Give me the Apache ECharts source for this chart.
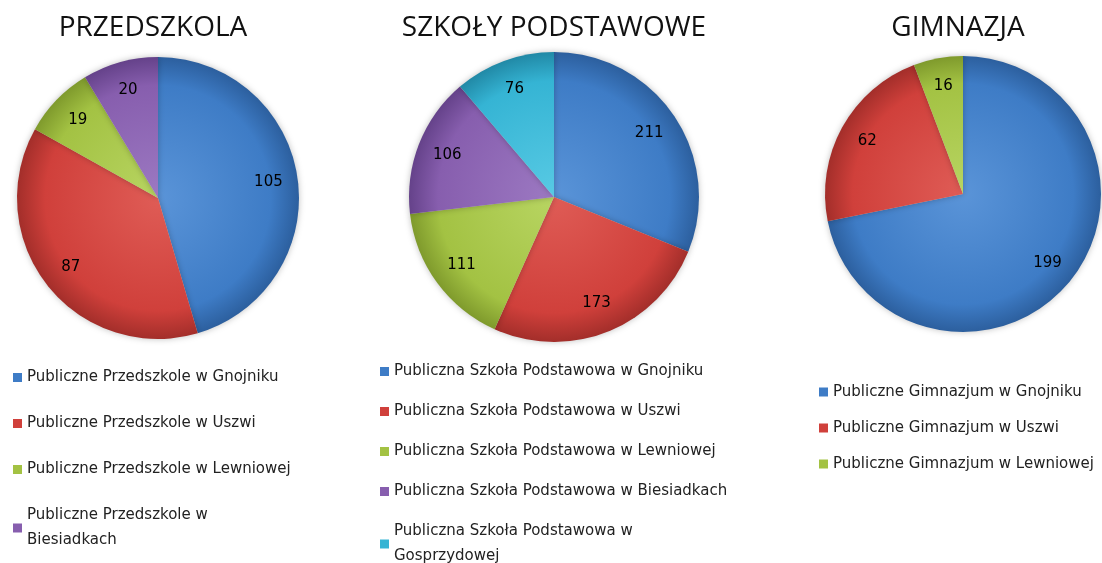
<!DOCTYPE html>
<html>
<head>
<meta charset="utf-8">
<script src="https://cdn.jsdelivr.net/npm/echarts@6/dist/echarts.min.js"></script>
<style>
  html, body { margin: 0; padding: 0; background: #fff; }
  #chart { width: 1102px; height: 563px; }
</style>
</head>
<body>
<div id="chart"></div>
<script>
// dane
const przedszkolaNames = [
  'Publiczne Przedszkole w Gnojniku',
  'Publiczne Przedszkole w Uszwi',
  'Publiczne Przedszkole w Lewniowej',
  'Publiczne Przedszkole w Biesiadkach'
];
const przedszkolaValues = [105, 87, 19, 20];

const szkolyNames = [
  'Publiczna Szkoła Podstawowa w Gnojniku',
  'Publiczna Szkoła Podstawowa w Uszwi',
  'Publiczna Szkoła Podstawowa w Lewniowej',
  'Publiczna Szkoła Podstawowa w Biesiadkach',
  'Publiczna Szkoła Podstawowa w Gosprzydowej'
];
const szkolyValues = [211, 173, 111, 106, 76];

const gimnazjaNames = [
  'Publiczne Gimnazjum w Gnojniku',
  'Publiczne Gimnazjum w Uszwi',
  'Publiczne Gimnazjum w Lewniowej'
];
const gimnazjaValues = [199, 62, 16];

const titles = ['PRZEDSZKOLA', 'SZKOŁY PODSTAWOWE', 'GIMNAZJA'];

const colors = ['#3e7cc6', '#d0403b', '#a3c243', '#875eae', '#35b4d4'];
const lightColors = ['#5a94d8', '#df5c56', '#b8d562', '#9c79c2', '#58cae4'];
const darkColors = ['#2c5f9e', '#a32e2a', '#7f9a2c', '#65428a', '#2189a6'];

const FONT = 'DejaVu Sans';
const LEGEND_SIZE = 15;

let chart = echarts.init(document.getElementById('chart'));

// zawijanie długich nazw w legendzie (przed ostatnim słowem)
let measureCtx = document.createElement('canvas').getContext('2d');
measureCtx.font = LEGEND_SIZE + 'px "' + FONT + '"';
function wrapName(name, maxWidth) {
  if (measureCtx.measureText(name).width <= maxWidth) return name;
  let cut = name.lastIndexOf(' ');
  return name.slice(0, cut) + '\n' + name.slice(cut + 1);
}

function makePie(names, values, cx, cy, r) {
  let data = names.map(function (n, i) {
    return {
      name: n,
      value: values[i],
      itemStyle: {
        color: {
          type: 'radial', x: cx, y: cy, r: r, global: true,
          colorStops: [
            { offset: 0, color: lightColors[i] },
            { offset: 0.8, color: colors[i] },
            { offset: 1, color: darkColors[i] }
          ]
        }
      }
    };
  });
  let pie = {
    type: 'pie',
    center: [cx, cy],
    radius: r,
    startAngle: 90,
    label: { show: false },
    labelLine: { show: false },
    itemStyle: { shadowBlur: 6, shadowColor: 'rgba(0,0,0,0.25)' },
    emphasis: { disabled: true },
    data: data
  };
  // druga, przezroczysta seria tylko po to, by etykiety były dalej od środka
  let labels = {
    type: 'pie',
    center: [cx, cy],
    radius: r * 1.54,
    startAngle: 90,
    silent: true,
    legendHoverLink: false,
    itemStyle: { color: 'transparent' },
    label: {
      show: true,
      position: 'inside',
      formatter: '{c}',
      color: '#000',
      fontFamily: FONT,
      fontSize: 15
    },
    labelLine: { show: false },
    emphasis: { disabled: true },
    data: names.map(function (n, i) { return { name: n, value: values[i] }; })
  };
  return [pie, labels];
}

function makeLegend(names, left, top, gap, maxWidth, lineHeight) {
  return {
    orient: 'vertical',
    left: left,
    top: top,
    height: 400,
    itemGap: gap,
    itemWidth: 9,
    itemHeight: 9,
    icon: 'rect',
    selectedMode: false,
    data: names.map(function (n, i) {
      return { name: n, itemStyle: { color: colors[i] } };
    }),
    formatter: function (name) { return wrapName(name, maxWidth); },
    textStyle: {
      fontFamily: FONT,
      fontSize: LEGEND_SIZE,
      color: '#222',
      lineHeight: lineHeight
    }
  };
}

chart.setOption({
  animation: false,
  title: [
    { text: titles[0], left: 148, top: 9 },
    { text: titles[1], left: 549, top: 9 },
    { text: titles[2], left: 953, top: 9 }
  ].map(function (t) {
    t.textAlign = 'center';
    t.textStyle = { fontFamily: 'Open Sans', fontSize: 28, fontWeight: 'normal', color: '#111' };
    return t;
  }),
  legend: [
    makeLegend(przedszkolaNames, 8, 360, 21, 270, 25),
    makeLegend(szkolyNames, 375, 354, 15, 340, 25),
    makeLegend(gimnazjaNames, 814, 379, 20, 300, 16)
  ],
  series: []
    .concat(makePie(przedszkolaNames, przedszkolaValues, 158, 198, 141))
    .concat(makePie(szkolyNames, szkolyValues, 554, 197, 145))
    .concat(makePie(gimnazjaNames, gimnazjaValues, 963, 194, 138))
});
</script>
</body>
</html>
